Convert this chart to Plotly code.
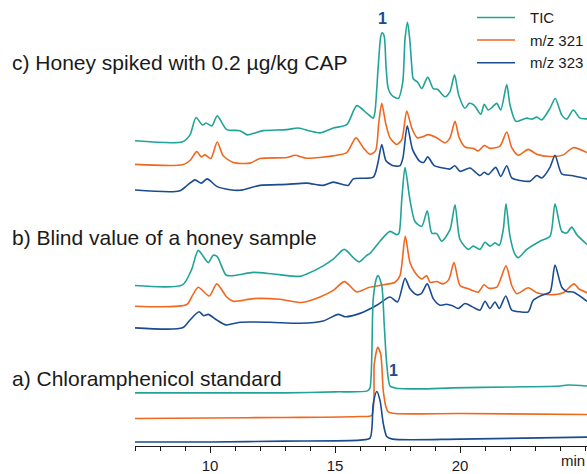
import plotly.graph_objects as go

# ---------------- data (retention time in min, signal above own baseline) ----------------
# c) Honey spiked with 0.2 µg/kg CAP
c_tic_t = [7.0, 8.9, 9.2, 9.44, 9.7, 9.84, 10.07, 10.29, 10.67, 11.2, 11.5, 11.8, 12.13, 13.07, 13.53, 14.0, 14.4,
           14.93, 15.47, 15.87, 16.27, 16.53, 16.6, 16.73, 16.83, 16.89, 16.97, 17.04, 17.13, 17.27, 17.53, 17.71,
           17.8, 17.9, 17.99, 18.07, 18.13, 18.3, 18.47, 18.71, 18.93, 19.1, 19.4, 19.6, 19.78, 19.95, 20.2, 20.37,
           20.56, 20.83, 20.97, 21.13, 21.27, 21.47, 21.63, 21.87, 22.0, 22.24, 22.67, 22.87, 23.07, 23.27, 23.6,
           23.81, 24.07, 24.27, 24.53, 24.8, 25.08]
c_tic_v = [0, -1, 6, 23.7, 16, 18, 15, 25.3, 11.3, 10.3, 6, 8, 10.3, 11.3, 13, 10, 8,
           13, 16.3, 35.7, 28, 23, 29.7, 76, 106, 109.7, 106, 76, 53, 46.3, 43, 59.7,
           103, 120.3, 103, 76.3, 63, 59.7, 53, 64.7, 53, 52.3, 44.7, 50, 67, 46.3, 33, 38,
           36.3, 27, 37, 31.3, 33.7, 38, 31.3, 57, 36.3, 19.7, 23, 22, 24, 21.3, 33,
           43, 26.3, 22, 31.3, 23, 22.3]

c_321_t = [7.0, 8.9, 9.2, 9.47, 9.65, 9.8, 10.03, 10.29, 10.53, 10.93, 11.6, 12.0, 13.07, 13.4, 13.87, 14.93, 15.47,
           15.84, 16.13, 16.4, 16.62, 16.75, 16.87, 17.04, 17.2, 17.47, 17.67, 17.87, 18.07, 18.29, 18.5, 18.73,
           19.07, 19.4, 19.6, 19.8, 19.97, 20.2, 20.53, 20.73, 20.97, 21.2, 21.6, 21.87, 22.07, 22.33, 22.73, 23.07,
           23.6, 24.13, 24.53, 25.08]
c_321_v = [0, -0.3, 4, 13, 7.7, 9.7, 6, 22.7, 8.7, 2, 1.3, 6, 7, 9.3, 6.3, 8.7, 12,
           27, 17, 10.3, 13.7, 42, 62, 40.3, 27, 20.3, 25.3, 54.3, 37, 27, 28, 30.3,
           27, 22, 27, 43.7, 27, 17.7, 16.3, 13.7, 19.3, 16.3, 18.7, 33, 17, 9.3, 15.3, 10.3,
           8, 9.7, 17, 12]

c_323_t = [7.0, 8.77, 9.1, 9.4, 9.65, 9.89, 10.27, 10.8, 11.2, 12.0, 13.07, 13.87, 14.53, 14.93, 15.53, 15.73,
           16.53, 16.72, 16.87, 17.04, 17.33, 17.6, 17.72, 17.89, 18.1, 18.37, 18.55, 18.71, 18.97, 19.33, 19.6,
           19.79, 20.0, 20.4, 20.8, 20.97, 21.13, 21.43, 21.63, 21.87, 22.07, 22.4, 22.8, 23.07, 23.27, 23.6, 23.8,
           24.07, 24.47, 25.08]
c_323_v = [0, -1, 5, 10.3, 7, 11.3, 3.7, 0.3, -0.3, 4.7, 5.7, 7, 4.7, 8, 4.7, 11.3,
           13, 28, 46.3, 29.7, 24.7, 24.7, 33, 65.3, 41.3, 29.7, 28, 33.7, 24.7, 22.3, 21.3,
           24.7, 19, 22.3, 14.7, 18, 15.7, 23, 13.7, 24.7, 12.3, 9.7, 9, 14.7, 12.3, 23, 35.3,
           16.3, 14.7, 11.3]

# b) Blind value of a honey sample
b_tic_t = [7.0, 8.9, 9.27, 9.53, 9.93, 10.13, 10.29, 10.64, 10.93, 11.73, 12.53, 13.6, 13.87, 14.53, 14.93, 15.37,
           15.77, 15.97, 16.27, 16.4, 16.8, 17.2, 17.47, 17.56, 17.67, 17.8, 18.0, 18.2, 18.47, 18.69, 18.87, 19.07,
           19.27, 19.6, 19.8, 20.0, 20.33, 20.53, 20.8, 21.0, 21.2, 21.4, 21.57, 21.73, 21.84, 22.0, 22.2, 22.33,
           22.67, 23.2, 23.6, 23.8, 24.07, 24.27, 24.47, 24.67, 25.08]
b_tic_v = [0, 0.7, 16.7, 35.7, 23.3, 30.7, 29.3, 10.7, 10, 13.3, 11.7, 9.3, 11.7, 20, 26.7, 36.7,
           27.3, 24, 30.7, 32.7, 45, 55, 51.7, 53.3, 86.7, 120, 86.7, 65, 60, 76, 53.3, 52.7,
           45, 56.7, 82, 46.7, 36.7, 40, 36.7, 44, 40, 43.3, 40.7, 56.7, 83, 50, 31.7, 28.3,
           36.7, 45, 50, 83, 55, 53.3, 59.3, 51.7, 41.7]

b_321_t = [7.0, 9.07, 9.3, 9.53, 9.97, 10.27, 10.67, 10.93, 11.73, 12.8, 13.67, 14.4, 14.93, 15.38, 15.87, 16.35,
           17.0, 17.4, 17.6, 17.81, 18.0, 18.2, 18.47, 18.67, 18.8, 19.07, 19.33, 19.55, 19.76, 20.0, 20.33, 20.73,
           20.96, 21.15, 21.47, 21.84, 22.07, 22.27, 22.73, 23.07, 23.6, 24.13, 24.56, 24.75, 25.08]
b_321_v = [0, 1.7, 11, 19.3, 10.3, 22.7, 9.3, 5, 7.7, 7, 3.7, 9.3, 16, 25, 14.5, 19,
           22, 24.3, 31, 71, 44.3, 34.3, 27.7, 31, 24.3, 25, 22.7, 27, 44.3, 21, 17.7, 14.3,
           21.7, 18.3, 19.3, 41, 21, 12.7, 18.7, 13.7, 11.7, 13.7, 22.7, 17.7, 13.7]

b_323_t = [7.0, 8.9, 9.2, 9.56, 9.75, 9.93, 10.27, 10.64, 11.2, 12.4, 13.6, 14.53, 15.13, 15.4, 16.0, 16.67, 17.2,
           17.5, 17.8, 18.0, 18.27, 18.45, 18.69, 18.93, 19.2, 19.45, 19.7, 19.93, 20.2, 20.5, 20.8, 21.0, 21.2,
           21.4, 21.57, 21.83, 22.07, 22.4, 22.73, 22.93, 23.33, 23.6, 23.8, 24.07, 24.27, 24.53, 25.08]
b_323_v = [0, 0, 8, 16.3, 12.3, 13.7, 8, 3, 5.7, 5.7, 4.7, 7, 13.7, 11.3, 14.7, 23, 31.3,
           26.3, 50.3, 39.7, 33.7, 34.7, 44.7, 29.7, 23, 24, 22.5, 19.7, 24.7, 21.3, 18, 27, 19.7,
           26.3, 19.7, 32.3, 18, 16.3, 16.3, 28, 33.7, 36.3, 63.7, 41.3, 37, 36.3, 27]

# a) Chloramphenicol standard
a_tic_t = [7.0, 10.0, 13.0, 15.0, 16.3, 16.4, 16.53, 16.67, 16.73, 16.87, 16.97, 17.07, 17.2, 17.4, 18.4, 19.7,
           22.0, 24.0, 24.3, 25.08]
a_tic_v = [0, 0, 0, 1, 2, 5, 95.7, 117.3, 119, 109, 69, 29, 7, 5, 4, 5, 6, 7, 8, 7]

a_321_t = [7.0, 10.0, 13.0, 16.0, 16.47, 16.57, 16.71, 16.83, 16.93, 17.04, 17.13, 17.4, 20.0, 25.08]
a_321_v = [0, 0.5, 1, 2, 3.3, 55, 72.3, 65, 28.3, 11.7, 6.7, 5, 5, 4]

a_323_t = [7.0, 10.0, 13.0, 16.0, 16.4, 16.53, 16.67, 16.8, 16.93, 17.07, 17.3, 20.0, 25.08]
a_323_v = [0, 0, 1, 2, 4, 39, 51.3, 42.3, 19, 5.7, 3, 3, 5]

series_names = ["TIC", "m/z 321", "m/z 323"]
group_labels = ["c) Honey spiked with 0.2 µg/kg CAP",
                "b) Blind value of a honey sample",
                "a) Chloramphenicol standard"]
tick_values = [10, 15, 20]

# ---------------- styling / layout ----------------
colors = {"TIC": "#22a398", "m/z 321": "#f0671f", "m/z 323": "#1b4b90"}
# vertical stacking offsets of each trace (display layout)
offsets = {
    "c": {"TIC": 310, "m/z 321": 286, "m/z 323": 260},
    "b": {"TIC": 163, "m/z 321": 142, "m/z 323": 120},
    "a": {"TIC": 54, "m/z 321": 28, "m/z 323": 4},
}
label_y = {"c": 390, "b": 212, "a": 69}

groups = {
    "c": [(c_tic_t, c_tic_v), (c_321_t, c_321_v), (c_323_t, c_323_v)],
    "b": [(b_tic_t, b_tic_v), (b_321_t, b_321_v), (b_323_t, b_323_v)],
    "a": [(a_tic_t, a_tic_v), (a_321_t, a_321_v), (a_323_t, a_323_v)],
}

FONT = "Liberation Sans, Arial, Helvetica, sans-serif"
fig = go.Figure()
for g, traces in groups.items():
    for name, (t, v) in zip(series_names, traces):
        off = offsets[g][name]
        fig.add_trace(go.Scatter(
            x=t, y=[val + off for val in v], mode="lines", name=name,
            line=dict(color=colors[name], width=1.6, shape="spline", smoothing=0.7),
            showlegend=False, hoverinfo="skip"))

W, H = 587, 474
ml, mb = 135, 21
pw, ph = W - ml, H - mb

annotations = []
for g, txt in zip(["c", "b", "a"], group_labels):
    annotations.append(dict(text=txt, xref="paper", yref="y", x=(10 - ml) / pw, y=label_y[g],
                            xanchor="left", yanchor="middle", showarrow=False,
                            font=dict(family=FONT, size=21, color="#1a1a1a")))
# peak labels
annotations.append(dict(text="<b>1</b>", x=16.88, y=434, xref="x", yref="y", showarrow=False,
                        font=dict(family=FONT, size=16, color="#1b4b90")))
annotations.append(dict(text="<b>1</b>", x=17.32, y=77, xref="x", yref="y", showarrow=False,
                        font=dict(family=FONT, size=16, color="#1b4b90")))
# axis unit
annotations.append(dict(text="min", xref="paper", yref="paper", x=1.0, y=-15 / ph, xanchor="right",
                        yanchor="middle", showarrow=False, font=dict(family=FONT, size=15, color="#1a1a1a")))

# legend (drawn manually to match swatch geometry)
shapes = []
for i, name in enumerate(series_names):
    yy = ph - (17.7 + 23 * i)
    shapes.append(dict(type="line", xref="paper", yref="y", x0=(477 - ml) / pw, x1=(515 - ml) / pw,
                       y0=yy, y1=yy, line=dict(color=colors[name], width=1.6)))
    annotations.append(dict(text=name, xref="paper", yref="y", x=(528 - ml) / pw, y=yy,
                            xanchor="left", yanchor="middle", showarrow=False,
                            font=dict(family=FONT, size=15, color="#1a1a1a")))

fig.update_layout(
    width=W, height=H, autosize=False,
    margin=dict(l=ml, r=0, t=0, b=mb, pad=0),
    paper_bgcolor="white", plot_bgcolor="white",
    showlegend=False,
    annotations=annotations, shapes=shapes,
    xaxis=dict(range=[7, 7 + pw / 25.0], tickvals=tick_values, ticktext=[str(v) for v in tick_values],
               ticks="outside", ticklen=6, tickwidth=1, tickcolor="#1a1a1a",
               showline=True, linecolor="#1a1a1a", linewidth=1, showgrid=False, zeroline=False,
               tickfont=dict(family=FONT, size=15, color="#1a1a1a"),
               minor=dict(dtick=1, tick0=0, ticks="outside", ticklen=3.5, tickwidth=1, tickcolor="#1a1a1a",
                          showgrid=False)),
    yaxis=dict(range=[0, ph], visible=False, showgrid=False, zeroline=False, fixedrange=True),
)

fig.write_html("out.html", config={"displayModeBar": False, "staticPlot": True},
               post_script="document.body.style.margin='0';document.body.style.overflow='hidden';")
